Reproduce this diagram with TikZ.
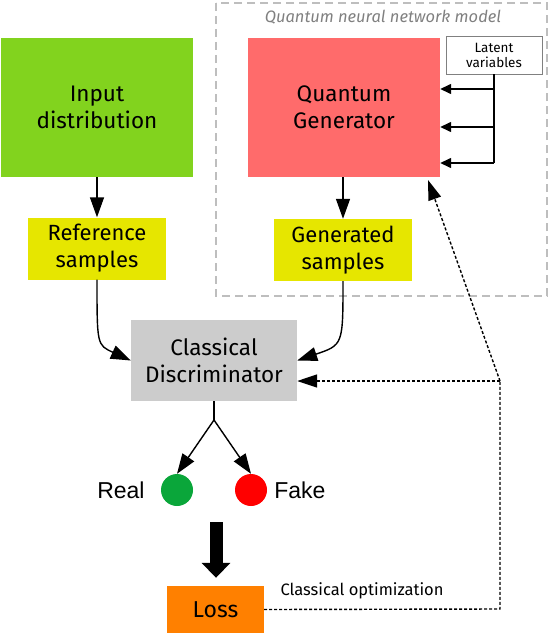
\documentclass[tikz,border=0pt]{standalone}
\usepackage{fontspec}
\setmainfont{Fira Sans}
\newfontfamily\arialfont{Liberation Sans}
\usetikzlibrary{arrows.meta,positioning}
\definecolor{inputgreen}{RGB}{130,211,30}
\definecolor{sampleyellow}{RGB}{230,230,0}
\definecolor{genred}{RGB}{255,107,107}
\definecolor{discgray}{RGB}{204,204,204}
\definecolor{realgreen}{RGB}{10,166,58}
\definecolor{lossorange}{RGB}{255,128,0}
\definecolor{framegray}{RGB}{190,190,190}

\begin{document}
\begin{tikzpicture}[x=1pt,y=1pt]
        \tikzstyle{every node}+=[inner sep=0pt]
        \tikzstyle{bigbox}=[minimum width=192pt,minimum height=139pt,align=center,font=\fontsize{22.5}{27}\selectfont]
        \tikzstyle{samplebox}=[fill=sampleyellow,minimum width=138pt,minimum height=62pt,align=center,font=\fontsize{22}{27}\selectfont]
        \tikzstyle{arr}=[black,line width=1.4pt,-{Triangle[length=20pt,width=14pt]}]
        \tikzstyle{smallarr}=[black,line width=1.4pt,-{Triangle[length=11pt,width=10pt]}]
        \tikzstyle{feedback}=[black,line width=1.4pt,dash pattern=on 3pt off 2pt,-{Triangle[length=20pt,width=13pt]}]
        \useasboundingbox (0,0) rectangle (550,-634);
        % quantum model frame
        \draw [framegray,line width=1.5pt,dash pattern=on 8pt off 5pt] (216,-3) rectangle (547,-296);
        \node (title) at (383,-17) {\fontsize{16.5}{18}\selectfont\itshape\color{gray}Quantum neural network model};
        % boxes
        \node [bigbox,fill=inputgreen] (input) at (97,-107.5) {Input\\distribution};
        \node [bigbox,fill=genred] (gen) at (344,-107.5) {Quantum\\Generator};
        \node [draw=gray,fill=white,minimum width=96pt,minimum height=38pt,align=center,font=\fontsize{13.5}{15}\selectfont] (latent) at (494,-55) {Latent\\variables};
        \node [samplebox] (ref) at (97,-248.5) {Reference\\samples};
        \node [samplebox] (gens) at (343,-250) {Generated\\samples};
        \node [fill=discgray,minimum width=166pt,minimum height=81pt,align=center,font=\fontsize{22.5}{27}\selectfont] (disc) at (214,-360.5) {Classical\\Discriminator};
        \node [circle,fill=realgreen,minimum size=32pt] (real) at (177,-490) {};
        \node [circle,fill=red,minimum size=32pt] (fake) at (251,-490) {};
        \node [left=16pt of real,font=\arialfont\fontsize{23}{26}\selectfont] (reallabel) {Real};
        \node [right=7pt of fake,font=\arialfont\fontsize{23}{26}\selectfont] (fakelabel) {Fake};
        \node [fill=lossorange,minimum width=97pt,minimum height=47pt,font=\fontsize{23}{26}\selectfont] (loss) at (215.5,-609.5) {Loss};
        \node [font=\fontsize{16.5}{18}\selectfont] (optlabel) at (362,-591) {Classical optimization};
        % helper points
        \coordinate (latentbus) at (494,-163);
        \coordinate (split) at (214,-420);
        \coordinate (corner) at (500,-381);
        \coordinate (lossturn) at (500,-609);
        \coordinate (gentip) at (428,-180);
        \coordinate (bigtop) at (216,-522);
        % connectors
        \draw [arr] (input.south) -- (ref.north);
        \draw [arr] (gen.south -| gens.north) -- (gens.north);
        \draw [black,line width=1.4pt] (latent.south) -- (latentbus);
        \draw [smallarr] (494,-89) -- (gen.east |- 0,-89);
        \draw [smallarr] (494,-127) -- (gen.east |- 0,-127);
        \draw [smallarr] (latentbus) -- (gen.east |- latentbus);
        \draw [arr] (ref.south) .. controls (97,-345) .. (disc.west);
        \draw [arr] (gens.south) .. controls (343,-345) .. (disc.east);
        \draw [black,line width=1.4pt] (disc.south) -- (split);
        \draw [arr] (split) -- (real.north);
        \draw [arr] (split) -- (fake.north);
        \draw [black,line width=13pt,-{Triangle[length=15pt,width=28pt]}] (bigtop) -- ([yshift=8pt]loss.north -| bigtop);
        \draw [black,line width=1.4pt,dash pattern=on 3pt off 2pt] (loss.east) -- (lossturn) -- (corner);
        \draw [feedback] (corner) -- (disc.east |- corner);
        \draw [feedback] (corner) -- (gentip);
\end{tikzpicture}
\end{document}
